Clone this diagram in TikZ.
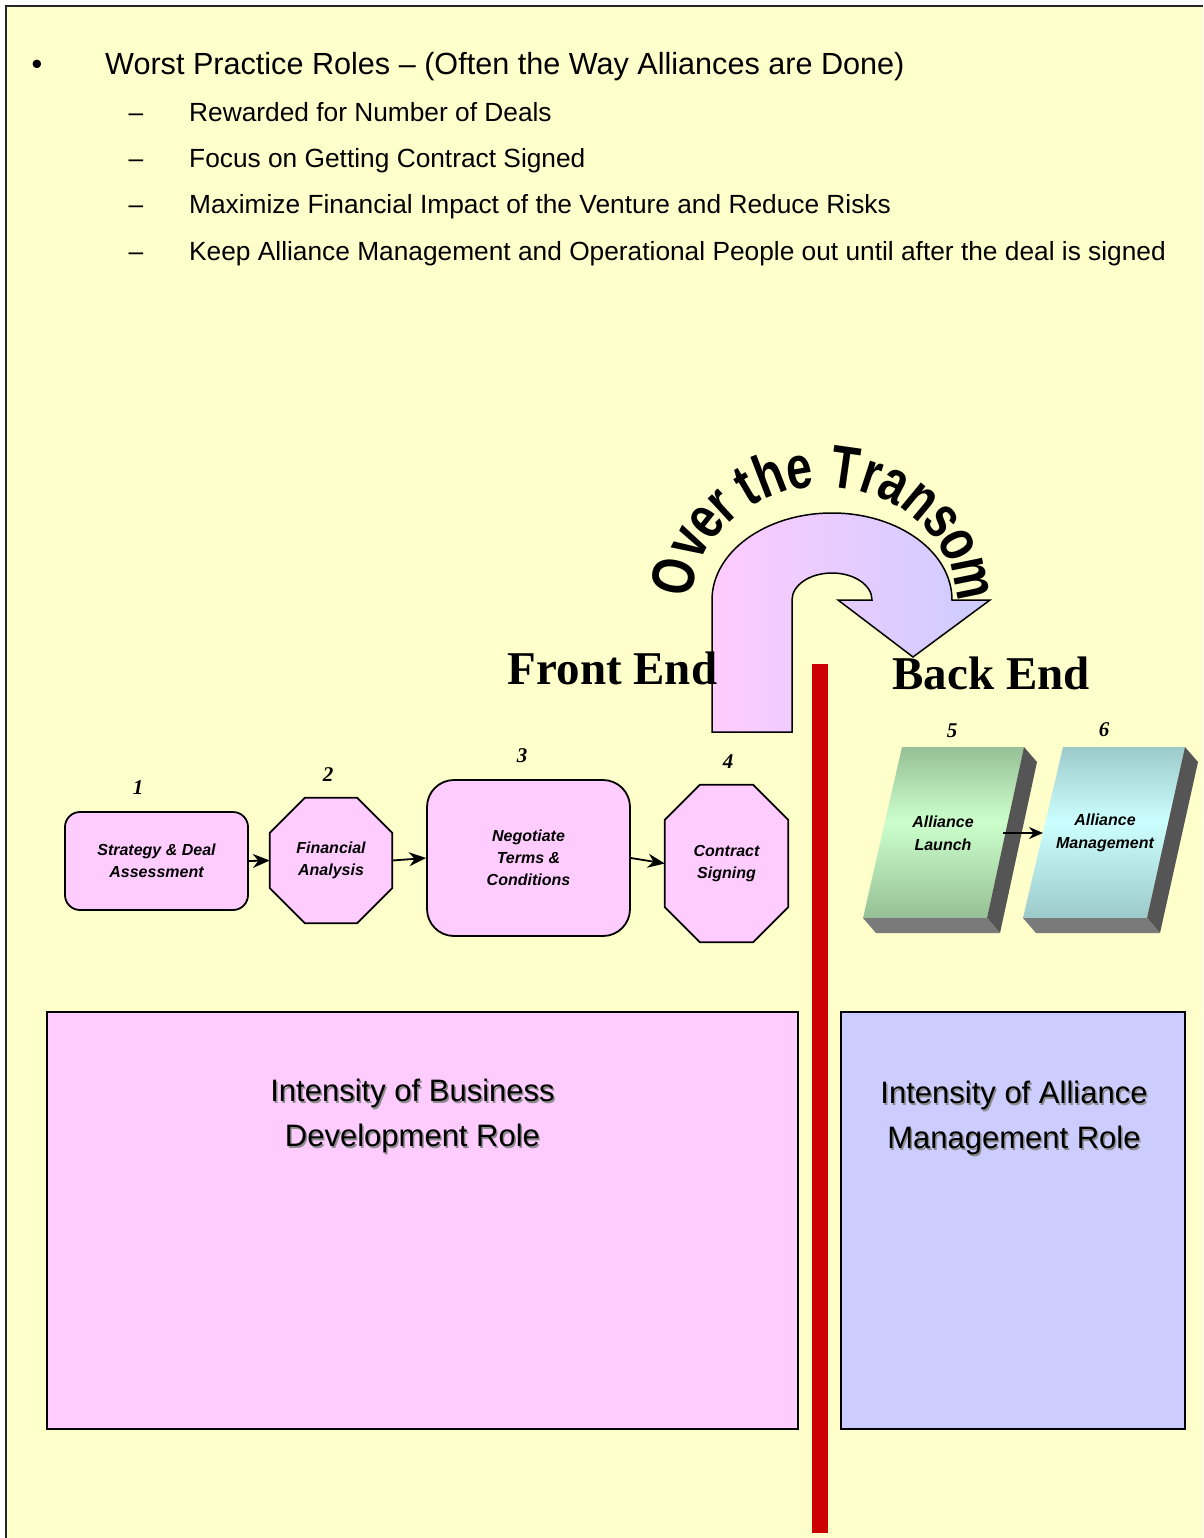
\documentclass[tikz,border=0pt]{standalone}
\usepackage{fontspec}
\setmainfont{Liberation Sans}
\newfontfamily\tnr{Liberation Serif}
\usetikzlibrary{arrows.meta,calc}
\definecolor{bgy}{HTML}{FFFFCC}
\definecolor{pinkf}{HTML}{FFCCFF}
\definecolor{lavf}{HTML}{CCCCFF}
\definecolor{redbar}{HTML}{CC0000}
\definecolor{grnt}{HTML}{96C096}
\definecolor{grnm}{HTML}{CCFFCC}
\definecolor{cyat}{HTML}{9CCACA}
\definecolor{cyam}{HTML}{CCFFFF}
\definecolor{sidegray}{HTML}{555555}
\definecolor{botgray}{HTML}{7A7A7A}
\pgfdeclareverticalshading{grnshade}{100bp}{color(0bp)=(grnt); color(25bp)=(grnt); color(53bp)=(grnm); color(75bp)=(grnt); color(100bp)=(grnt)}
\pgfdeclareverticalshading{cyashade}{100bp}{color(0bp)=(cyat); color(25bp)=(cyat); color(53bp)=(cyam); color(75bp)=(cyat); color(100bp)=(cyat)}
\pgfdeclarelayer{pagebg}
\pgfdeclarelayer{shapes}
\pgfsetlayers{pagebg,shapes,main}
\tikzset{
  procnode/.style={draw=none, align=center, font=\fontsize{16}{22}\selectfont\bfseries\itshape, inner sep=0pt},
  procfill/.style={fill=pinkf, draw=black, line width=1.8pt},
  numlabel/.style={font=\tnr\fontsize{21}{24}\selectfont\bfseries\itshape, inner sep=0pt},
  flowarrow/.style={line width=1.8pt, -{Stealth[length=17pt,width=14pt]}},
  arcletter/.style={font=\fontsize{54}{60}\selectfont\bfseries, inner sep=0pt},
  endlabel/.style={font=\tnr\fontsize{47}{50}\selectfont\bfseries, inner sep=0pt, anchor=base},
  titletext/.style={font=\fontsize{30.6}{36}\selectfont, inner sep=0pt, anchor=base west},
  subtext/.style={font=\fontsize{26.3}{30}\selectfont, inner sep=0pt, anchor=base west},
  boxtext/.style={font=\fontsize{31}{45}\selectfont, align=center, inner sep=0pt},
  rolebox/.style={draw=black, line width=1.6pt, inner sep=0pt},
  blocktext/.style={align=center, font=\fontsize{16}{23}\selectfont\bfseries\itshape, inner sep=0pt},
}
\begin{document}
\begin{tikzpicture}[x=1pt,y=-1pt]
\useasboundingbox (0,0) rectangle (1203,1538);
\begin{pgfonlayer}{pagebg}
\fill[white] (0,0) rectangle (1203,1538);
\fill[bgy] (6,6) rectangle (1203,1538);
\draw[line width=2pt, black!85] (6,1538) -- (6,6) -- (1203,6);
\end{pgfonlayer}

% ---- top text ----
\node[titletext, anchor=base] (bul) at (37,75) {•};
\node[titletext] (title) at (105,75) {Worst Practice Roles – (Often the Way Alliances are Done)};
\node[subtext, anchor=base] (d1) at (136,122) {–};
\node[subtext] (s1) at (189,122) {Rewarded for Number of Deals};
\node[subtext, anchor=base] (d2) at (136,168) {–};
\node[subtext] (s2) at (189,168) {Focus on Getting Contract Signed};
\node[subtext, anchor=base] (d3) at (136,214) {–};
\node[subtext] (s3) at (189,214) {Maximize Financial Impact of the Venture and Reduce Risks};
\node[subtext, anchor=base] (d4) at (136,260) {–};
\node[subtext] (s4) at (189,260) {Keep Alliance Management and Operational People out until after the deal is signed};

% ---- big bent arrow ----
\draw[line width=1.5pt, left color=pinkf, right color=lavf]
  (712,732) -- (712,600) arc[start angle=180, end angle=360, x radius=120, y radius=87]
  -- (990,600) -- (913,657) -- (838,600) -- (872,600)
  arc[start angle=360, end angle=180, x radius=40, y radius=27]
  -- (792,732) -- cycle;

% ---- arc text ----
\coordinate (arcc) at (824,605);
\foreach \ch/\ang [count=\k] in {O/168, v/153, e/142, r/132.8, t/120.5, h/111, e/99.3, T/81.9, r/71.7, a/62.2, n/50.3, s/38.5, o/26.7, m/11.5}
  \node[arcletter, rotate=\ang-90, anchor=base] (otl\k) at ($(arcc)+({133*cos(\ang)},{-118*sin(\ang)})$) {\scalebox{0.86}[1.12]{\ch}};

\node[endlabel] (fe) at (612.5,684) {Front End};
\node[endlabel] (be) at (991,689) {Back End};

% ---- red divider ----
\fill[redbar] (812,664) rectangle (828,1533);

% ---- process nodes ----
\node[procnode, procfill, rounded corners=15pt, minimum width=183pt, minimum height=98pt] (n1) at (156.5,861) {Strategy \& Deal\\Assessment};
\node[procnode, minimum width=122pt, minimum height=125pt] (n2) at (331,860.5) {Financial\\Analysis};
\node[procnode, procfill, rounded corners=27pt, minimum width=203pt, minimum height=156pt] (n3) at (528.5,858) {Negotiate\\Terms \&\\Conditions};
\node[procnode, minimum width=123pt, minimum height=157pt] (n4) at (726.5,863.5) {Contract\\Signing};
\begin{pgfonlayer}{shapes}
\foreach \n in {n2,n4}
  \draw[procfill, line join=miter]
    ($(\n.north west)+(35,0)$) -- ($(\n.north east)+(-35,0)$) -- ($(\n.north east)+(0,35)$)
    -- ($(\n.south east)+(0,-35)$) -- ($(\n.south east)+(-35,0)$) -- ($(\n.south west)+(35,0)$)
    -- ($(\n.south west)+(0,-35)$) -- ($(\n.north west)+(0,35)$) -- cycle;
\end{pgfonlayer}
\draw[flowarrow] (n1.east) -- (n2.west);
\draw[flowarrow] (n2.east) -- (n3.west);
\draw[flowarrow] (n3.east) -- (n4.west);

\node[numlabel] (l1) at (138,788) {1};
\node[numlabel] (l2) at (328,775) {2};
\node[numlabel] (l3) at (522,756) {3};
\node[numlabel] (l4) at (728,762) {4};
\node[numlabel] (l5) at (952,731) {5};
\node[numlabel] (l6) at (1104,730) {6};

% ---- 3D blocks ----
\shade[shading=grnshade] (902,747) -- (1024,747) -- (987,918) -- (863,918) -- cycle;
\fill[sidegray] (1024,747) -- (1037,762) -- (1000,933) -- (987,918) -- cycle;
\fill[botgray] (863,918) -- (987,918) -- (1000,933) -- (876,933) -- cycle;
\shade[shading=cyashade] (1063,747) -- (1185,747) -- (1147,918) -- (1023,918) -- cycle;
\fill[sidegray] (1185,747) -- (1198,762) -- (1160,933) -- (1147,918) -- cycle;
\fill[botgray] (1023,918) -- (1147,918) -- (1160,933) -- (1036,933) -- cycle;
\node[blocktext] (al) at (943,833) {Alliance\\Launch};
\node[blocktext] (am) at (1105,833) {Alliance\\Management};
\draw[line width=1.6pt, -{Stealth[length=14pt,width=12pt]}] ($(al.center)+(60,0)$) -- ($(am.center)+(-62,0)$);

% ---- role boxes ----
\node[rolebox, fill=pinkf, minimum width=751pt, minimum height=417pt] (bdbox) at (422.5,1220.5) {};
\node[rolebox, fill=lavf, minimum width=344pt, minimum height=417pt] (ambox) at (1013,1220.5) {};
\node[boxtext, text=black!45] (bdshadow) at ($(bdbox.north)+(-8.5,106.5)$) {Intensity of Business\\Development Role};
\node[boxtext] (bdtxt) at ($(bdbox.north)+(-10,105)$) {Intensity of Business\\Development Role};
\node[boxtext, text=black!45] (amshadow) at ($(ambox.north)+(2.5,108.5)$) {Intensity of Alliance\\Management Role};
\node[boxtext] (amtxt) at ($(ambox.north)+(1,107)$) {Intensity of Alliance\\Management Role};
\end{tikzpicture}
\end{document}
